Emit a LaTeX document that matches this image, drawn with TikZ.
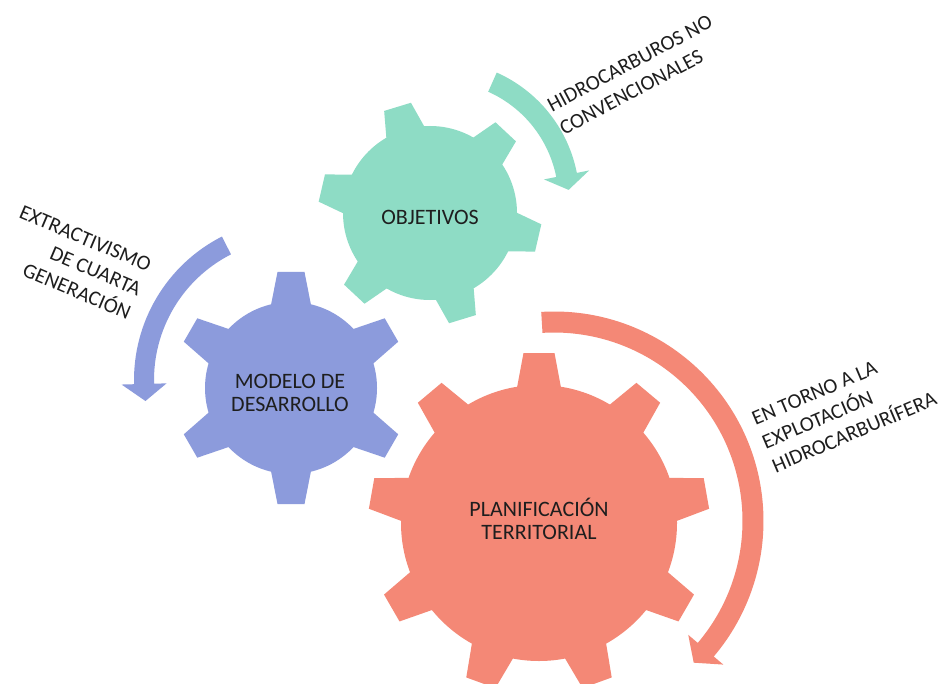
\documentclass[tikz,border=0pt]{standalone}
\usepackage{fontspec}
\setmainfont{Carlito}
\definecolor{gearG}{RGB}{142,220,197}
\definecolor{gearB}{RGB}{140,155,220}
\definecolor{gearR}{RGB}{244,136,118}
\definecolor{txt}{RGB}{30,30,30}
\newcommand\gearshape[9]{% cx cy n off rb rt wb wt colour
  \begin{scope}[shift={(#1,#2)}]
    \fill[#9] (0,0) circle[radius=#5];
    \foreach \k in {1,...,#3}{
      \fill[#9,rotate={#4+(\k-1)*360/#3}] (#5-8,-#7) -- (#6,-#8) -- (#6,#8) -- (#5-8,#7) -- cycle;
    }
  \end{scope}}
\tikzset{
  gtext/.style={font=\fontsize{22}{23}\selectfont, text=txt, align=center, inner sep=0pt},
  rtext/.style={font=\fontsize{21}{26}\selectfont, text=txt, inner sep=0pt},
}
\begin{document}
\begin{tikzpicture}[x=1pt,y=-1pt]
\useasboundingbox (0,0) rectangle (949,684);
\fill[white] (0,0) rectangle (949,684);
% gears
\gearshape{430}{213}{6}{107}{87}{111}{21}{14}{gearG}
\gearshape{291}{388}{6}{90}{86}{116}{21}{13.5}{gearB}
\gearshape{539}{523}{9}{90}{138}{170}{23}{15.5}{gearR}
% curved arrows
\begin{scope}[shift={(440,200)}]
  \fill[gearG] (-66:139.5) arc[start angle=-66, end angle=-11.2, radius=139.5]
    -- (-11.2:152) -- (-4.5:129) -- (-11.2:106) -- (-11.2:118.5)
    arc[start angle=-11.2, end angle=-66, radius=118.5] -- cycle;
\end{scope}
\begin{scope}[shift={(295,380)}]
  \fill[gearB] (-117:161) arc[start angle=-117, end angle=-181.5, radius=161]
    -- (-181.5:173.5) -- (-188:151) -- (-181.5:128.5) -- (-181.5:141)
    arc[start angle=-181.5, end angle=-117, radius=141] -- cycle;
\end{scope}
\begin{scope}[shift={(554,521)}]
  \fill[gearR] (-93.5:209.5) arc[start angle=-93.5, end angle=40.3, radius=209.5]
    -- (40.3:222) -- (45.4:199) -- (40.3:176) -- (40.3:188.5)
    arc[start angle=40.3, end angle=-93.5, radius=188.5] -- cycle;
\end{scope}
% gear labels
\node[gtext] (obj) at (430,217) {OBJETIVOS};
\node[gtext] (mod) at (290,393) {MODELO DE\\DESARROLLO};
\node[gtext] (pla) at (539,519) {PLANIFICACIÓN\\TERRITORIAL};
% arrow labels
\node[rtext, rotate=28, anchor=west, align=left] (hid) at (555,118) {HIDROCARBUROS NO\\CONVENCIONALES};
\node[rtext, rotate=-23, anchor=east, align=right] (ext) at (140,290) {EXTRACTIVISMO\\DE CUARTA\\GENERACIÓN};
\node[rtext, rotate=23, anchor=west, align=left] (tor) at (763,443) {EN TORNO A LA\\EXPLOTACIÓN\\HIDROCARBURÍFERA};
\end{tikzpicture}
\end{document}
